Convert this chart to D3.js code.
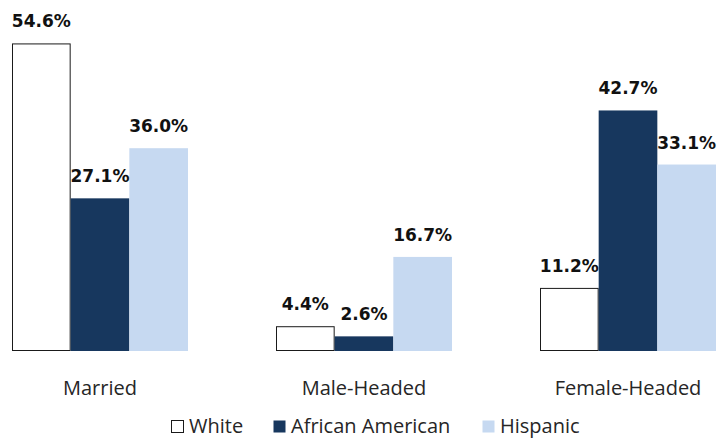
<!DOCTYPE html>
<html>
<head>
<meta charset="utf-8">
<script src="https://cdn.jsdelivr.net/npm/d3@7"></script>
<style>
  html, body { margin: 0; padding: 0; background: #fff; }
  svg { display: block; }
</style>
</head>
<body>
<svg id="chart" width="718" height="438"></svg>
<script>
const categories = ["Married", "Male-Headed", "Female-Headed"];
const seriesNames = ["White", "African American", "Hispanic"];
const white = [54.6, 4.4, 11.2];
const africanAmerican = [27.1, 2.6, 42.7];
const hispanic = [36.0, 16.7, 33.1];
const seriesValues = [white, africanAmerican, hispanic];
const colors = ["#ffffff", "#17375e", "#c6d9f1"];
const strokes = ["#1a1a1a", "none", "none"];

const svg = d3.select("#chart");

const x0 = d3.scaleBand().domain(categories).range([12, 716]).paddingInner(1/3).paddingOuter(0);
const x1 = d3.scaleBand().domain(seriesNames).range([0, x0.bandwidth()]).padding(0);
const y = d3.scaleLinear().domain([0, 60]).range([351, 13]);

const data = [];
categories.forEach((c, i) => {
  seriesNames.forEach((s, j) => {
    data.push({ cat: c, series: s, j: j, value: seriesValues[j][i] });
  });
});

// bars
svg.append("g").selectAll("rect").data(data).join("rect")
  .attr("x", d => x0(d.cat) + x1(d.series) + (d.j === 0 ? 0.5 : 0))
  .attr("y", d => y(d.value) + (d.j === 0 ? 0.5 : 0))
  .attr("width", d => x1.bandwidth() - (d.j === 0 ? 1 : 0))
  .attr("height", d => y(0) - y(d.value) - (d.j === 0 ? 1 : 0))
  .attr("fill", d => colors[d.j])
  .attr("stroke", d => strokes[d.j])
  .attr("stroke-width", 1);

// value labels
svg.append("g").selectAll("text").data(data).join("text")
  .attr("x", d => x0(d.cat) + x1(d.series) + x1.bandwidth() / 2)
  .attr("y", d => y(d.value) - 16)
  .attr("text-anchor", "middle")
  .attr("font-family", "'DejaVu Sans', sans-serif")
  .attr("font-weight", "bold")
  .attr("font-size", "17px")
  .attr("fill", "#111")
  .text(d => d.value.toFixed(1) + "%");

// category axis (no line)
const xAxis = d3.axisBottom(x0).tickSize(0).tickPadding(0);
const axisG = svg.append("g").attr("transform", "translate(0,351)").call(xAxis);
axisG.select(".domain").remove();
axisG.selectAll("text")
  .attr("y", 44)
  .attr("dy", 0)
  .attr("font-family", "'Open Sans', sans-serif")
  .attr("font-size", "20px")
  .attr("fill", "#262626");

// legend
const legendX = [171, 273, 482];
const legend = svg.append("g");
seriesNames.forEach((s, j) => {
  legend.append("rect")
    .attr("x", legendX[j] + 0.5).attr("y", 420.5)
    .attr("width", 12).attr("height", 12)
    .attr("fill", colors[j])
    .attr("stroke", j === 0 ? "#1a1a1a" : "none");
  legend.append("text")
    .attr("x", legendX[j] + 18).attr("y", 432.5)
    .attr("font-family", "'Open Sans', sans-serif")
    .attr("font-size", "20px")
    .attr("fill", "#262626")
    .text(s);
});
</script>
</body>
</html>
